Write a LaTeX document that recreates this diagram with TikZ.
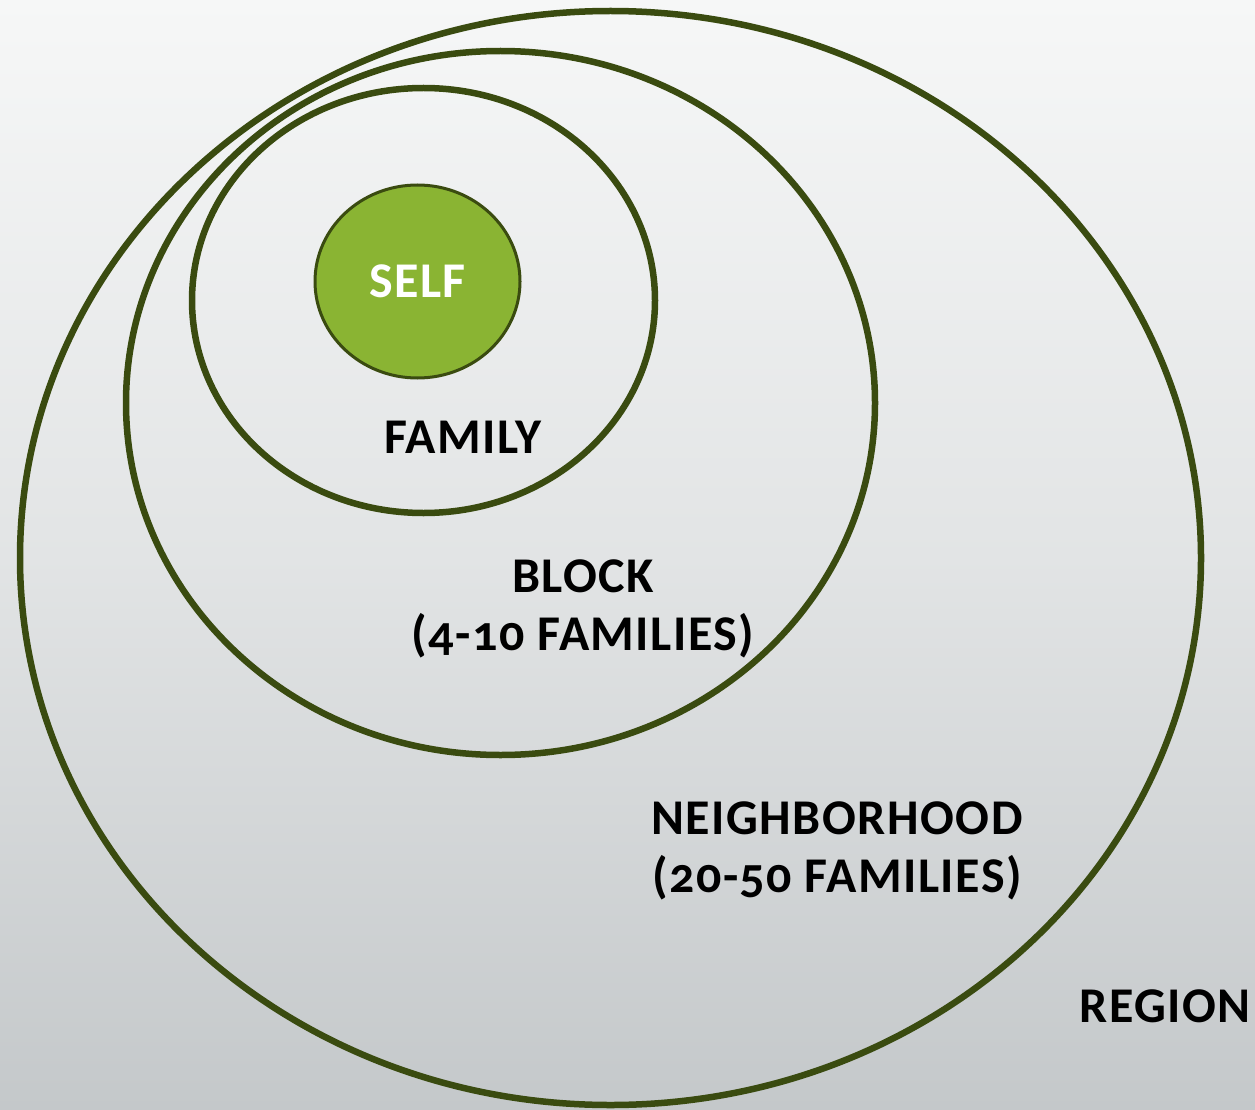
\documentclass[tikz,border=0pt]{standalone}
\usepackage{fontspec}
\setmainfont{Carlito}[Numbers=OldStyle,LetterSpace=3.0]
\usetikzlibrary{shapes.geometric}
\definecolor{ringgreen}{RGB}{58,75,16}
\definecolor{selfgreen}{RGB}{138,180,51}
\definecolor{bgtop}{RGB}{246,247,247}
\definecolor{bgbottom}{RGB}{196,200,202}

\begin{document}
\begin{tikzpicture}[x=1pt,y=-1pt,
  ring/.style={ellipse, draw=ringgreen, line width=6.5pt, inner sep=0pt},
  lbl/.style={font=\fontsize{50}{58}\selectfont\bfseries, align=center, inner sep=0pt}]

%Hintergrund
\shade[top color=bgtop, bottom color=bgbottom, middle color=bgtop!60!bgbottom] (0,0) rectangle (1255,1110);

%Ringe
\node[ring, minimum width=1181pt, minimum height=1094pt] (ringHood) at (610.5,558) {};
\node[ring, minimum width=749pt, minimum height=704pt] (ringBlock) at (500.5,403) {};
\node[ring, minimum width=463pt, minimum height=425pt] (ringFamily) at (423.5,300.5) {};
\node[ellipse, draw=ringgreen, fill=selfgreen, line width=3pt, inner sep=0pt,
  minimum width=205pt, minimum height=193pt] (self) at (417.5,281.5) {};

%Beschriftung
\node[lbl, text=white] (selfText) at (self) {SELF};
\node[lbl] (familyText) at (463,437) {FAMILY};
\node[lbl] (blockText) at (583,609) {BLOCK\\(4-10 FAMILIES)};
\node[lbl] (hoodText) at (837,851) {NEIGHBORHOOD\\(20-50 FAMILIES)};
\node[lbl] (regionText) at (1165,1006) {REGION};

\end{tikzpicture}
\end{document}
